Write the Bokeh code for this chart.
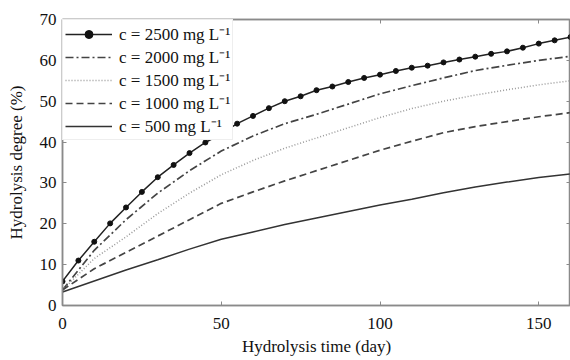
from bokeh.plotting import figure
from bokeh.models import (LinearAxis, FixedTicker, Range1d, Legend, LegendItem,
                          CustomJSTickFormatter)
from bokeh.embed import file_html
from bokeh.resources import INLINE

# ---- data ----
days_2500 = [0, 5, 10, 15, 20, 25, 30, 35, 40, 45, 50, 55, 60, 65, 70, 75, 80,
             85, 90, 95, 100, 105, 110, 115, 120, 125, 130, 135, 140, 145, 150, 155, 160]
deg_2500 = [5.9, 11.0, 15.6, 20.1, 24.0, 27.8, 31.4, 34.4, 37.3, 39.9, 42.0, 44.5,
            46.4, 48.3, 50.0, 51.2, 52.7, 53.6, 54.7, 55.7, 56.5, 57.4, 58.2, 58.7,
            59.5, 60.2, 60.9, 61.6, 62.2, 63.1, 64.1, 64.9, 65.7]

days = [0, 10, 20, 30, 40, 50, 60, 70, 80, 90, 100, 110, 120, 130, 140, 150, 160]
deg_2000 = [3.8, 13.5, 21.0, 27.5, 33.0, 37.8, 41.5, 44.5, 46.8, 49.3, 51.8, 53.8,
            55.7, 57.5, 58.8, 60.0, 61.0]
deg_1500 = [3.8, 11.5, 16.8, 22.5, 27.5, 32.0, 35.5, 38.5, 41.0, 43.5, 46.0, 48.2,
            50.0, 51.5, 52.8, 54.0, 55.0]
deg_1000 = [3.8, 9.0, 13.0, 17.0, 21.0, 25.0, 27.8, 30.5, 33.0, 35.5, 38.0, 40.2,
            42.3, 43.8, 45.0, 46.2, 47.2]
deg_500 = [3.3, 6.0, 8.7, 11.2, 13.8, 16.2, 18.0, 19.8, 21.4, 23.0, 24.6, 26.0,
           27.6, 29.0, 30.2, 31.3, 32.2]

labels = ["c = 2500 mg L\u207b\u00b9", "c = 2000 mg L\u207b\u00b9",
          "c = 1500 mg L\u207b\u00b9", "c = 1000 mg L\u207b\u00b9",
          "c = 500 mg L\u207b\u00b9"]
x_ticks = [0, 50, 100, 150]
y_ticks = [0, 10, 20, 30, 40, 50, 60, 70]

FONT = "Liberation Serif"
AX = "#8a8a8a"

p = figure(width=570, height=360, output_backend="svg", toolbar_location=None,
           x_range=Range1d(0, 160), y_range=Range1d(0, 70),
           min_border_left=62, min_border_top=19, min_border_bottom=55,
           min_border_right=0)
p.grid.visible = False
p.outline_line_color = AX
p.outline_line_width = 1.5
p.background_fill_color = "white"
p.border_fill_color = "white"

r2500l = p.line(days_2500, deg_2500, line_color="#222222", line_width=1.5)
r2500m = p.scatter(days_2500, deg_2500, size=5, marker="circle",
                   fill_color="#111111", line_color="#111111")
r2000 = p.line(days, deg_2000, line_color="#444444", line_width=1.7,
               line_dash="8 3 2 3")
r1500 = p.line(days, deg_1500, line_color="#999999", line_width=1.5,
               line_dash="1 2")
r1000 = p.line(days, deg_1000, line_color="#444444", line_width=1.7,
               line_dash="7 4")
r500 = p.line(days, deg_500, line_color="#333333", line_width=1.5)

for ax in (p.xaxis[0], p.yaxis[0]):
    ax.axis_line_color = AX
    ax.axis_line_width = 1.5
    ax.major_tick_in = 4
    ax.major_tick_out = 0
    ax.major_tick_line_color = AX
    ax.minor_tick_line_color = None
    ax.major_label_text_font = FONT
    ax.major_label_text_font_size = "17px"
    ax.major_label_text_color = "#111111"
    ax.axis_label_text_font = FONT
    ax.axis_label_text_font_size = "17px"
    ax.axis_label_text_font_style = "normal"
    ax.axis_label_text_color = "#111111"

p.xaxis[0].ticker = FixedTicker(ticks=x_ticks)
p.yaxis[0].ticker = FixedTicker(ticks=y_ticks)
p.xaxis[0].axis_label = "Hydrolysis time (day)"
p.yaxis[0].axis_label = "Hydrolysis degree (%)"
p.xaxis[0].major_label_standoff = 12
p.xaxis[0].axis_label_standoff = 5
p.yaxis[0].major_label_standoff = 6
p.yaxis[0].axis_label_standoff = 11

# mirrored tick axes (top, right) without labels
blank = CustomJSTickFormatter(code="return ''")
top = LinearAxis(ticker=FixedTicker(ticks=x_ticks), formatter=blank,
                 major_tick_in=4, major_tick_out=0,
                 major_tick_line_color=AX, minor_tick_line_color=None,
                 axis_line_color=AX, axis_line_width=1.5, major_label_standoff=0)
right = LinearAxis(ticker=FixedTicker(ticks=y_ticks), formatter=blank,
                   major_tick_in=4, major_tick_out=0,
                   major_tick_line_color=AX, minor_tick_line_color=None,
                   axis_line_color=AX, axis_line_width=1.5, major_label_standoff=0)
p.add_layout(top, "above")
p.add_layout(right, "right")

legend = Legend(items=[
    LegendItem(label=labels[0], renderers=[r2500l, r2500m]),
    LegendItem(label=labels[1], renderers=[r2000]),
    LegendItem(label=labels[2], renderers=[r1500]),
    LegendItem(label=labels[3], renderers=[r1000]),
    LegendItem(label=labels[4], renderers=[r500]),
], location="top_left")
legend.margin = 0
legend.padding = 2
legend.spacing = 0
legend.glyph_width = 47
legend.glyph_height = 20
legend.label_height = 20
legend.label_standoff = 7
legend.label_text_font = FONT
legend.label_text_font_size = "17px"
legend.label_text_color = "#111111"
legend.border_line_color = "#dddddd"
legend.background_fill_color = "white"
legend.background_fill_alpha = 1.0
p.add_layout(legend)

open("out.html", "w").write(file_html(p, INLINE))
